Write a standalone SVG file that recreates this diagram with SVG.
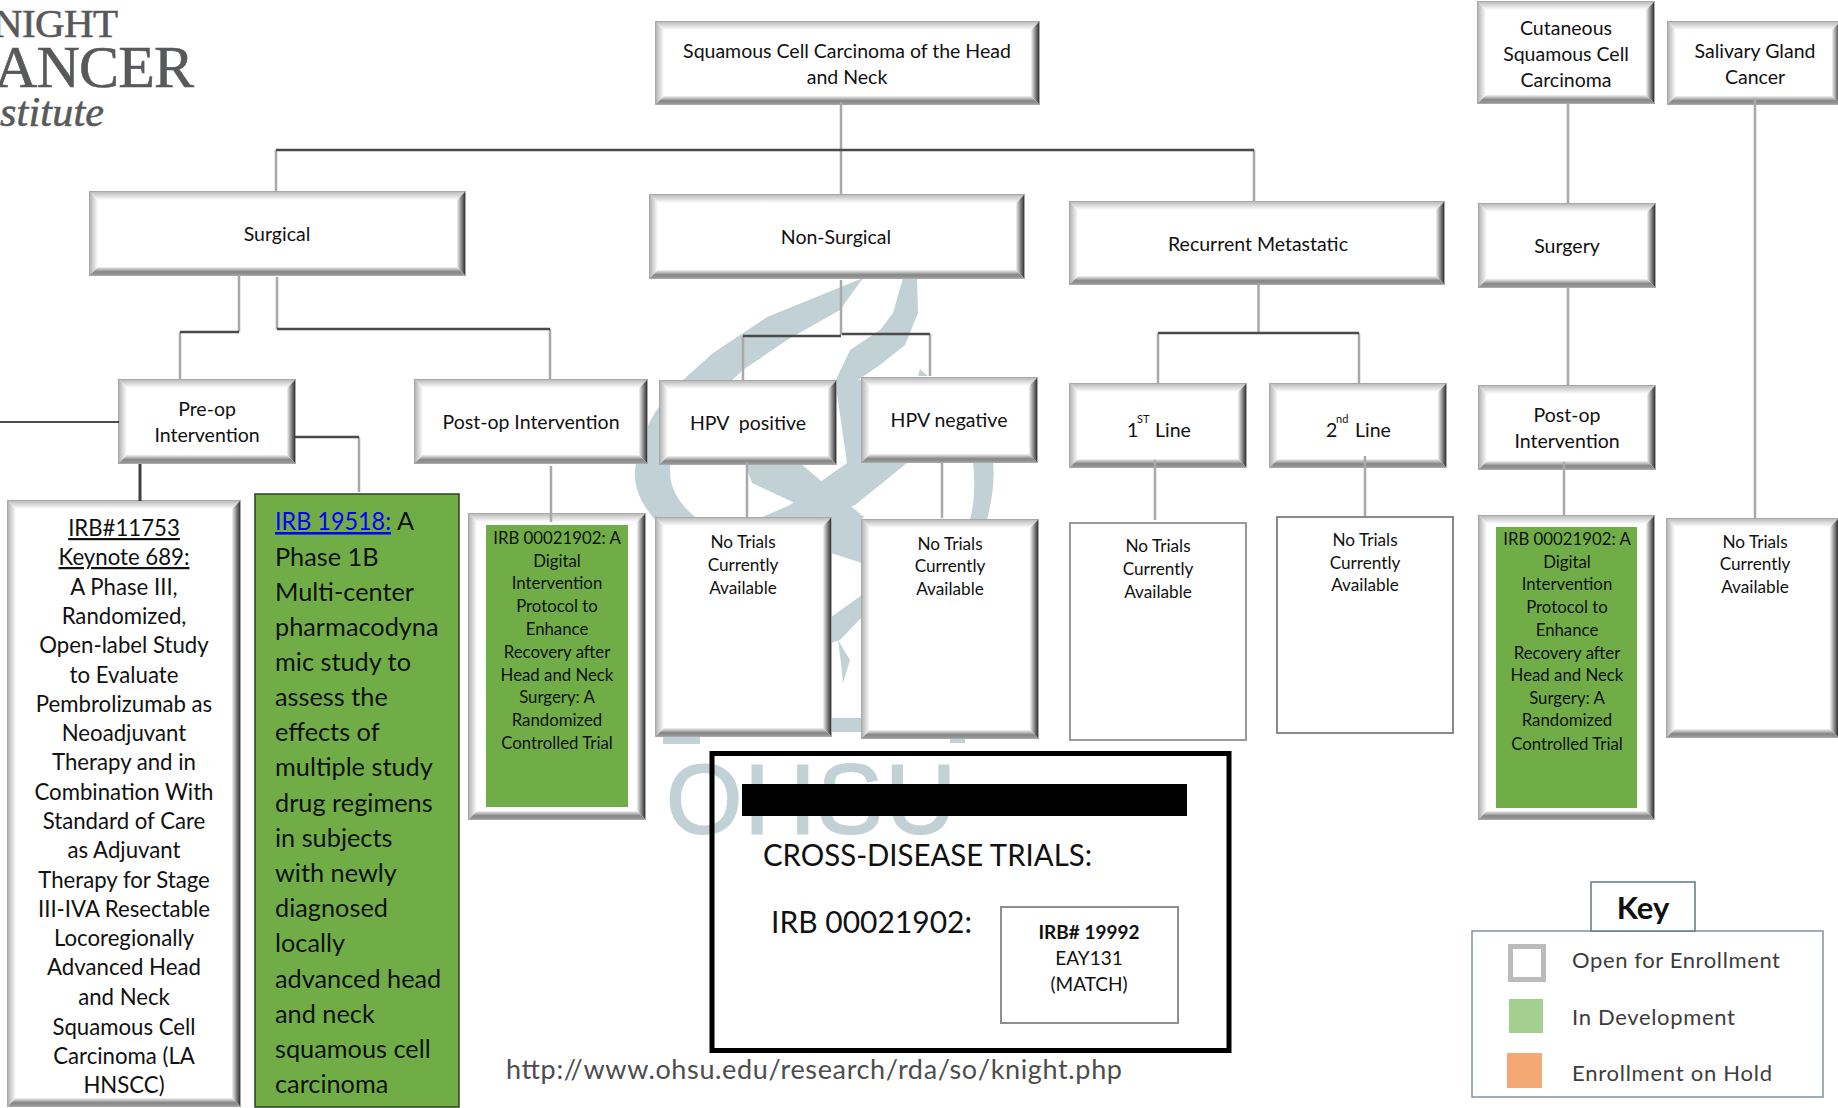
<svg xmlns="http://www.w3.org/2000/svg" width="1838" height="1108" viewBox="0 0 1838 1108">
<style>
text{font-family:"Lato","Open Sans","Liberation Sans",sans-serif;fill:#111;white-space:pre}
.c{text-anchor:middle}
.l{font-size:19.5px}
.s{font-size:17.2px}
.g{font-size:16.800px}
.e{fill:#fff;stroke:#a8a8a8;stroke-width:2}
.t{fill:url(#gt)}.f{fill:url(#gl)}.r{fill:url(#gr)}.b{fill:url(#gb)}
.cn{fill:none;stroke:#a9a9a9;stroke-width:2.5}
.cd{fill:none;stroke:#4a4a4a;stroke-width:2.5}
.wm{fill:#c2d1d5}
.logo{font-family:"Liberation Serif",serif;fill:#58595b;stroke:#58595b;stroke-width:.6}
.key{fill:#3c3c3c;font-size:22px}
</style>
<defs>
<linearGradient id="gt" x1="0" y1="0" x2="0" y2="1"><stop offset="0" stop-color="#bdbdbd"/><stop offset="1" stop-color="#fff"/></linearGradient>
<linearGradient id="gl" x1="0" y1="0" x2="1" y2="0"><stop offset="0" stop-color="#b5b5b5"/><stop offset="1" stop-color="#fff"/></linearGradient>
<linearGradient id="gr" x1="0" y1="0" x2="1" y2="0"><stop offset="0" stop-color="#f2f2f2"/><stop offset=".55" stop-color="#888"/><stop offset="1" stop-color="#333"/></linearGradient>
<linearGradient id="gb" x1="0" y1="0" x2="0" y2="1"><stop offset="0" stop-color="#f2f2f2"/><stop offset=".6" stop-color="#858585"/><stop offset="1" stop-color="#9a9a9a"/></linearGradient>
</defs>
<rect width="1838" height="1108" fill="#fff"/>

<g id="logo">
<text class="logo" x="118" y="37" font-size="41" text-anchor="end" textLength="125">NIGHT</text>
<text class="logo" x="194" y="87" font-size="60" text-anchor="end" textLength="200">ANCER</text>
<text class="logo" x="0" y="126" font-size="42" font-style="italic" textLength="104">stitute</text>
</g>

<g id="watermark">
<path class="wm" d="M863,278L840,310L787,340L743,370L730,382C700,405 668,440 670,475C672,495 685,510 702,522L660,525C645,510 633,490 635,470C640,430 660,400 683,380L713,353L767,317Z"/>
<path class="wm" d="M903,278L917,278L918,313L905,345L880,365L855,382L835,382L850,350L880,330L893,313Z"/>
<path class="wm" d="M835,380L905,380L907,463L847,463Z"/>
<path class="wm" d="M745,463L800,463L865,518L827,518L752,483Z"/>
<path class="wm" d="M847,463L907,463L855,505L820,518L760,518L790,505L820,482Z"/>
<path class="wm" d="M831,518L862,518L862,563L831,553Z"/>
<path class="wm" d="M831,617L862,595L862,617L840,640L831,643Z"/>
<path class="wm" d="M838,640L850,660L843,683L841,663Z"/>
<path class="wm" d="M973,462L993,462C995,480 992,500 987,520L970,520C975,500 975,480 973,462Z"/>
<path class="wm" d="M920,369L928,376L918,376Z"/>
<path class="wm" d="M831,718L862,718L862,732L831,732Z"/>
<path class="wm" d="M663,737L700,737L700,744L663,744Z"/>
<path class="wm" d="M950,737L965,737L965,743L950,743Z"/>
<text x="666" y="833" font-size="98" textLength="290" style="font-family:'Liberation Sans',sans-serif;fill:#c2d1d5;stroke:#c2d1d5;stroke-width:2">OHSU</text>
</g>

<g id="n-squamous"><rect class="e" x="656" y="22" width="383" height="82"/><path class="t" d="M656 22H1039L1031 30H664Z"/><path class="f" d="M656 22V104L664 96V30Z"/><path class="r" d="M1031 30L1039 22V104L1031 96Z"/><path class="b" d="M664 96H1031L1039 104H656Z"/>
<text class="l c" x="847" y="58">Squamous Cell Carcinoma of the Head</text><text class="l c" x="847" y="84">and Neck</text></g>

<g id="n-surgical"><rect class="e" x="90" y="192" width="375" height="83"/><path class="t" d="M90 192H465L457 200H98Z"/><path class="f" d="M90 192V275L98 267V200Z"/><path class="r" d="M457 200L465 192V275L457 267Z"/><path class="b" d="M98 267H457L465 275H90Z"/>
<text class="l c" x="277" y="241">Surgical</text></g>

<g id="n-nonsurgical"><rect class="e" x="650" y="195" width="374" height="83"/><path class="t" d="M650 195H1024L1016 203H658Z"/><path class="f" d="M650 195V278L658 270V203Z"/><path class="r" d="M1016 203L1024 195V278L1016 270Z"/><path class="b" d="M658 270H1016L1024 278H650Z"/>
<text class="l c" x="836" y="244">Non-Surgical</text></g>

<g id="n-recurrent"><rect class="e" x="1070" y="202" width="374" height="82"/><path class="t" d="M1070 202H1444L1436 210H1078Z"/><path class="f" d="M1070 202V284L1078 276V210Z"/><path class="r" d="M1436 210L1444 202V284L1436 276Z"/><path class="b" d="M1078 276H1436L1444 284H1070Z"/>
<text class="l c" x="1258" y="251">Recurrent Metastatic</text></g>

<g id="n-cutaneous"><rect class="e" x="1478" y="2" width="176" height="101"/><path class="t" d="M1478 2H1654L1646 10H1486Z"/><path class="f" d="M1478 2V103L1486 95V10Z"/><path class="r" d="M1646 10L1654 2V103L1646 95Z"/><path class="b" d="M1486 95H1646L1654 103H1478Z"/>
<text class="l c" x="1566" y="35">Cutaneous</text><text class="l c" x="1566" y="61">Squamous Cell</text><text class="l c" x="1566" y="87">Carcinoma</text></g>

<g id="n-salivary"><rect class="e" x="1668" y="22" width="172" height="82"/><path class="t" d="M1668 22H1840L1832 30H1676Z"/><path class="f" d="M1668 22V104L1676 96V30Z"/><path class="r" d="M1832 30L1840 22V104L1832 96Z"/><path class="b" d="M1676 96H1832L1840 104H1668Z"/>
<text class="l c" x="1755" y="58">Salivary Gland</text><text class="l c" x="1755" y="84">Cancer</text></g>

<g id="n-surgery"><rect class="e" x="1479" y="204" width="176" height="83"/><path class="t" d="M1479 204H1655L1647 212H1487Z"/><path class="f" d="M1479 204V287L1487 279V212Z"/><path class="r" d="M1647 212L1655 204V287L1647 279Z"/><path class="b" d="M1487 279H1647L1655 287H1479Z"/>
<text class="l c" x="1567" y="253">Surgery</text></g>

<g id="n-preop"><rect class="e" x="119" y="380" width="176" height="83"/><path class="t" d="M119 380H295L287 388H127Z"/><path class="f" d="M119 380V463L127 455V388Z"/><path class="r" d="M287 388L295 380V463L287 455Z"/><path class="b" d="M127 455H287L295 463H119Z"/>
<text class="l c" x="207" y="416">Pre-op</text><text class="l c" x="207" y="442">Intervention</text></g>

<g id="n-postop"><rect class="e" x="415" y="380" width="232" height="83"/><path class="t" d="M415 380H647L639 388H423Z"/><path class="f" d="M415 380V463L423 455V388Z"/><path class="r" d="M639 388L647 380V463L639 455Z"/><path class="b" d="M423 455H639L647 463H415Z"/>
<text class="l c" x="531" y="429">Post-op Intervention</text></g>

<g id="n-hpvpos"><rect class="e" x="660" y="381" width="176" height="83"/><path class="t" d="M660 381H836L828 389H668Z"/><path class="f" d="M660 381V464L668 456V389Z"/><path class="r" d="M828 389L836 381V464L828 456Z"/><path class="b" d="M668 456H828L836 464H660Z"/>
<text class="l c" x="748" y="430">HPV  positive</text></g>

<g id="n-hpvneg"><rect class="e" x="862" y="378" width="175" height="84"/><path class="t" d="M862 378H1037L1029 386H870Z"/><path class="f" d="M862 378V462L870 454V386Z"/><path class="r" d="M1029 386L1037 378V462L1029 454Z"/><path class="b" d="M870 454H1029L1037 462H862Z"/>
<text class="l c" x="949" y="427">HPV negative</text></g>

<g id="n-line1"><rect class="e" x="1070" y="384" width="176" height="83"/><path class="t" d="M1070 384H1246L1238 392H1078Z"/><path class="f" d="M1070 384V467L1078 459V392Z"/><path class="r" d="M1238 392L1246 384V467L1238 459Z"/><path class="b" d="M1078 459H1238L1246 467H1070Z"/>
<text class="l" x="1127" y="437">1</text><text x="1137" y="423" font-size="11">ST</text><text class="l" x="1155" y="437">Line</text></g>

<g id="n-line2"><rect class="e" x="1270" y="384" width="176" height="83"/><path class="t" d="M1270 384H1446L1438 392H1278Z"/><path class="f" d="M1270 384V467L1278 459V392Z"/><path class="r" d="M1438 392L1446 384V467L1438 459Z"/><path class="b" d="M1278 459H1438L1446 467H1270Z"/>
<text class="l" x="1326" y="437">2</text><text x="1336" y="423" font-size="11">nd</text><text class="l" x="1355" y="437">Line</text></g>

<g id="n-postop2"><rect class="e" x="1479" y="386" width="176" height="83"/><path class="t" d="M1479 386H1655L1647 394H1487Z"/><path class="f" d="M1479 386V469L1487 461V394Z"/><path class="r" d="M1647 394L1655 386V469L1647 461Z"/><path class="b" d="M1487 461H1647L1655 469H1479Z"/>
<text class="l c" x="1567" y="422">Post-op</text><text class="l c" x="1567" y="448">Intervention</text></g>

<g id="n-irb11753"><rect class="e" x="8" y="501" width="232" height="605"/><path class="t" d="M8 501H240L232 509H16Z"/><path class="f" d="M8 501V1106L16 1098V509Z"/><path class="r" d="M232 509L240 501V1106L232 1098Z"/><path class="b" d="M16 1098H232L240 1106H8Z"/>
<g font-size="22.2px">
<text class="c" x="124" y="536" text-decoration="underline">IRB#11753</text>
<text class="c" x="124" y="565" text-decoration="underline">Keynote 689:</text>
<text class="c" x="124" y="595">A Phase III,</text>
<text class="c" x="124" y="624">Randomized,</text>
<text class="c" x="124" y="653">Open-label Study</text>
<text class="c" x="124" y="683">to Evaluate</text>
<text class="c" x="124" y="712">Pembrolizumab as</text>
<text class="c" x="124" y="741">Neoadjuvant</text>
<text class="c" x="124" y="770">Therapy and in</text>
<text class="c" x="124" y="800">Combination With</text>
<text class="c" x="124" y="829">Standard of Care</text>
<text class="c" x="124" y="858">as Adjuvant</text>
<text class="c" x="124" y="888">Therapy for Stage</text>
<text class="c" x="124" y="917">III-IVA Resectable</text>
<text class="c" x="124" y="946">Locoregionally</text>
<text class="c" x="124" y="975">Advanced Head</text>
<text class="c" x="124" y="1005">and Neck</text>
<text class="c" x="124" y="1035">Squamous Cell</text>
<text class="c" x="124" y="1064">Carcinoma (LA</text>
<text class="c" x="124" y="1093">HNSCC)</text>
</g></g>

<g id="n-irb19518"><rect x="255" y="494" width="204" height="613" fill="#70ad47" stroke="#2f3f28" stroke-width="1.5"/>
<g font-size="25.300px">
<text x="275" y="530" textLength="116" lengthAdjust="spacingAndGlyphs" style="fill:#0000ff" text-decoration="underline">IRB 19518:</text><text x="397" y="530">A</text>
<text x="275" y="566">Phase 1B</text>
<text x="275" y="601">Multi-center</text>
<text x="275" y="636">pharmacodyna</text>
<text x="275" y="671">mic study to</text>
<text x="275" y="706">assess the</text>
<text x="275" y="741">effects of</text>
<text x="275" y="776">multiple study</text>
<text x="275" y="812">drug regimens</text>
<text x="275" y="847">in subjects</text>
<text x="275" y="882">with newly</text>
<text x="275" y="917">diagnosed</text>
<text x="275" y="952">locally</text>
<text x="275" y="988">advanced head</text>
<text x="275" y="1023">and neck</text>
<text x="275" y="1058">squamous cell</text>
<text x="275" y="1093">carcinoma</text>
</g></g>

<g id="n-green1"><rect class="e" x="469" y="514" width="176" height="305"/><path class="t" d="M469 514H645L637 522H477Z"/><path class="f" d="M469 514V819L477 811V522Z"/><path class="r" d="M637 522L645 514V819L637 811Z"/><path class="b" d="M477 811H637L645 819H469Z"/>
<rect x="486" y="525" width="142" height="282" fill="#70ad47"/>
<text class="g c" x="557" y="544">IRB 00021902: A</text><text class="g c" x="557" y="567">Digital</text><text class="g c" x="557" y="589">Intervention</text><text class="g c" x="557" y="612">Protocol to</text><text class="g c" x="557" y="635">Enhance</text><text class="g c" x="557" y="658">Recovery after</text><text class="g c" x="557" y="681">Head and Neck</text><text class="g c" x="557" y="703">Surgery: A</text><text class="g c" x="557" y="726">Randomized</text><text class="g c" x="557" y="749">Controlled Trial</text></g>

<g id="n-green2"><rect class="e" x="1479" y="516" width="175" height="303"/><path class="t" d="M1479 516H1654L1646 524H1487Z"/><path class="f" d="M1479 516V819L1487 811V524Z"/><path class="r" d="M1646 524L1654 516V819L1646 811Z"/><path class="b" d="M1487 811H1646L1654 819H1479Z"/>
<rect x="1496" y="527" width="141" height="281" fill="#70ad47"/>
<text class="g c" x="1567" y="545">IRB 00021902: A</text><text class="g c" x="1567" y="568">Digital</text><text class="g c" x="1567" y="590">Intervention</text><text class="g c" x="1567" y="613">Protocol to</text><text class="g c" x="1567" y="636">Enhance</text><text class="g c" x="1567" y="659">Recovery after</text><text class="g c" x="1567" y="681">Head and Neck</text><text class="g c" x="1567" y="704">Surgery: A</text><text class="g c" x="1567" y="726">Randomized</text><text class="g c" x="1567" y="750">Controlled Trial</text></g>

<g id="n-none1"><rect class="e" x="656" y="518" width="175" height="218"/><path class="t" d="M656 518H831L823 526H664Z"/><path class="f" d="M656 518V736L664 728V526Z"/><path class="r" d="M823 526L831 518V736L823 728Z"/><path class="b" d="M664 728H823L831 736H656Z"/>
<text class="s c" x="743" y="548">No Trials</text><text class="s c" x="743" y="571">Currently</text><text class="s c" x="743" y="594">Available</text></g>

<g id="n-none2"><rect class="e" x="862" y="520" width="176" height="218"/><path class="t" d="M862 520H1038L1030 528H870Z"/><path class="f" d="M862 520V738L870 730V528Z"/><path class="r" d="M1030 528L1038 520V738L1030 730Z"/><path class="b" d="M870 730H1030L1038 738H862Z"/>
<text class="s c" x="950" y="550">No Trials</text><text class="s c" x="950" y="572">Currently</text><text class="s c" x="950" y="595">Available</text></g>

<g id="n-none3"><rect x="1070" y="523" width="176" height="217" fill="#fff" stroke="#9a9a9a" stroke-width="2"/>
<text class="s c" x="1158" y="552">No Trials</text><text class="s c" x="1158" y="575">Currently</text><text class="s c" x="1158" y="598">Available</text></g>

<g id="n-none4"><rect x="1277" y="517" width="176" height="216" fill="#fff" stroke="#8a8a8a" stroke-width="2"/>
<text class="s c" x="1365" y="546">No Trials</text><text class="s c" x="1365" y="569">Currently</text><text class="s c" x="1365" y="591">Available</text></g>

<g id="n-none5"><rect class="e" x="1667" y="519" width="171" height="218"/><path class="t" d="M1667 519H1838L1830 527H1675Z"/><path class="f" d="M1667 519V737L1675 729V527Z"/><path class="r" d="M1830 527L1838 519V737L1830 729Z"/><path class="b" d="M1675 729H1830L1838 737H1667Z"/>
<text class="s c" x="1755" y="548">No Trials</text><text class="s c" x="1755" y="570">Currently</text><text class="s c" x="1755" y="593">Available</text></g>

<g id="connectors">
<path class="cn" d="M841 102V195M276 150V192M1254 150V202M180 332V380M239 275V332M277 277V329M550 329V380M359 437V492M551 466V522M841 280V335M743 336V381M930 334V376M747 462V518M942 462V518M1258.500 284V333M1158 333V384M1359 333V384M1155 460V520M1365 456V516M1568 103V204M1568 287V386M1564 462V515M1755 100V519"/>
<path class="cd" d="M276 150H1254M180 332H239M277 329H550M295 437H359M743 336H841M842 334H930M1158 333H1359"/>
<path d="M140 464V501" fill="none" stroke="#3f3f3f" stroke-width="3"/>
<path d="M0 422H119" fill="none" stroke="#111" stroke-width="1.500"/>
</g>

<g id="cross-disease">
<rect x="712" y="753.500" width="517" height="297" fill="none" stroke="#000" stroke-width="5"/>
<rect x="742" y="784" width="445" height="32" fill="#000"/>
<text x="763" y="866" font-size="30" textLength="329" lengthAdjust="spacingAndGlyphs">CROSS-DISEASE TRIALS:</text>
<text x="771" y="933" font-size="30.500" textLength="201" lengthAdjust="spacingAndGlyphs">IRB 00021902:</text>
</g>
<g id="n-irb19992"><rect x="1001" y="907" width="177" height="116" fill="none" stroke="#8f8f8f" stroke-width="2"/>
<text class="c" x="1089" y="939" font-size="19" font-weight="700">IRB# 19992</text>
<text class="c" x="1089" y="965" font-size="19">EAY131</text>
<text class="c" x="1089" y="991" font-size="19">(MATCH)</text></g>

<text id="url" x="506" y="1079" font-size="27" textLength="616" style="fill:#4d4d4d">http://www.ohsu.edu/research/rda/so/knight.php</text>

<g id="key">
<rect x="1472" y="931" width="351" height="166" fill="#fff" stroke="#7f949c" stroke-width="1.500"/>
<rect x="1591" y="882" width="104" height="49" fill="#fff" stroke="#5d7a85" stroke-width="1.500"/>
<text class="c" x="1643" y="919" font-size="31" font-weight="700">Key</text>
<rect x="1510.500" y="946.500" width="33" height="33" fill="#fff" stroke="#bbb" stroke-width="5"/>
<rect x="1509" y="999" width="34" height="34" fill="#a3cf8f"/>
<rect x="1507" y="1053" width="35" height="35" fill="#f4a974"/>
<text class="key" x="1572" y="968" textLength="208">Open for Enrollment</text>
<text class="key" x="1572" y="1025" textLength="163">In Development</text>
<text class="key" x="1572" y="1081" textLength="200">Enrollment on Hold</text>
</g>
</svg>
